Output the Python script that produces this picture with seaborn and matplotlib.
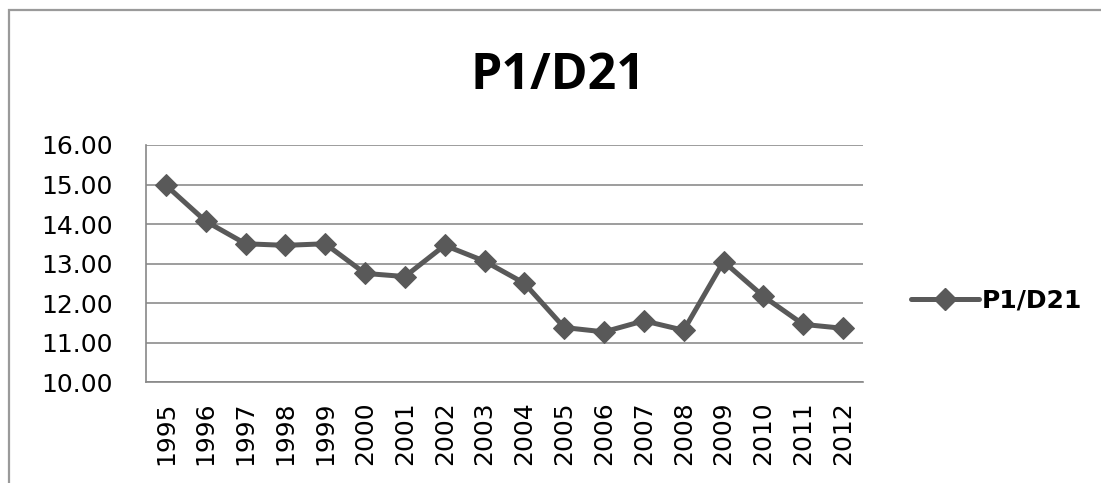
import numpy as np
import pandas as pd
import matplotlib
matplotlib.use("Agg")
import matplotlib.pyplot as plt
import seaborn as sns
from matplotlib.patches import Rectangle
from matplotlib.lines import Line2D

years = [str(y) for y in range(1995, 2013)]
values = [14.98, 14.07, 13.50, 13.46, 13.50, 12.75, 12.67, 13.46, 13.06,
          12.50, 11.38, 11.27, 11.55, 11.31, 13.05, 12.17, 11.46, 11.36]
series_name = "P1/D21"

df = pd.DataFrame({"year": years, "value": values})

sns.set_style("white")
plt.rcParams["font.family"] = ["DejaVu Sans"]
plt.rcParams["text.color"] = "black"
plt.rcParams["xtick.labelcolor"] = "black"
plt.rcParams["ytick.labelcolor"] = "black"

col = "#595959"
gray = "#888888"
fig = plt.figure(figsize=(11.01, 4.83), dpi=100)
ax = fig.add_axes([0.1326, 0.209, 0.6512, 0.4908])

sns.lineplot(data=df, x="year", y="value", ax=ax, color=col, lw=3.6,
             marker="D", markersize=11, markeredgecolor=col, sort=False)

ax.set_xlim(-0.5, len(years) - 0.5)
ax.set_ylim(10, 16)
yt = np.arange(10, 16.5, 1)
ax.set_yticks(yt)
ax.set_yticklabels([f"{v:.2f}" for v in yt], fontsize=18)
ax.set_xticks(range(len(years)))
ax.set_xticklabels(years, rotation=90, fontsize=18)
ax.set_xticks(np.arange(-0.5, len(years), 1), minor=True)
ax.tick_params(axis="x", which="major", length=0, pad=14)
ax.tick_params(axis="x", which="minor", length=8, color=gray, width=1.2)
ax.tick_params(axis="y", length=7, color=gray, width=1.2, pad=17)
ax.grid(axis="y", color="#8c8c8c", lw=1.2)
ax.set_xlabel("")
ax.set_ylabel("")
for s in ["top", "right"]:
    ax.spines[s].set_visible(False)
for s in ["left", "bottom"]:
    ax.spines[s].set_color(gray)
    ax.spines[s].set_linewidth(1.2)

fig.text(0.507, 0.842, series_name, ha="center", va="center", color="black",
         fontsize=36, fontweight="bold", family="Open Sans")

handle = Line2D([], [], color=col, lw=3.6, marker="D", markersize=11)
fig.legend([handle], [series_name], loc="center left",
           bbox_to_anchor=(0.807, 0.378), frameon=False,
           handlelength=2.7, handletextpad=0.12, labelcolor="black",
           prop={"size": 18, "weight": "bold"})

# chart-area frame (right and bottom edges fall outside the image)
fig.patches.append(Rectangle((0.0082, -0.1), 1.1, 1.0793, transform=fig.transFigure,
                             fill=False, edgecolor="#9a9a9a", lw=1.6))

fig.savefig("out.png", dpi=100)
